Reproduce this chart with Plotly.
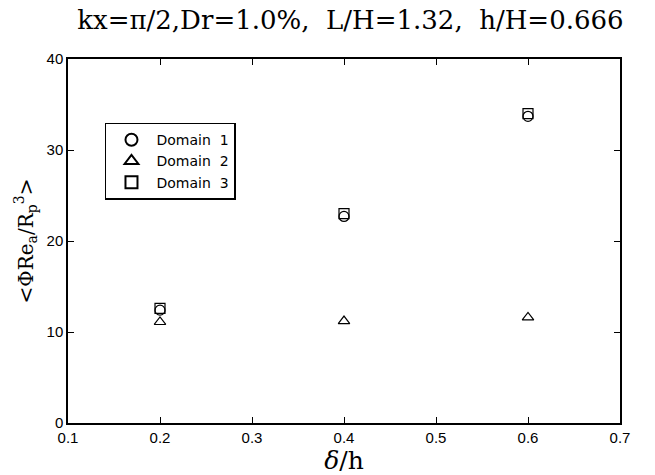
import plotly.graph_objects as go

x_vals = [0.2, 0.4, 0.6]
domain1 = [12.4, 22.7, 33.7]
domain2 = [11.1, 11.2, 11.6]
domain3 = [12.6, 23.0, 34.0]
names = ["Domain\u00a0 1", "Domain\u00a0 2", "Domain\u00a0 3"]
symbols = ["circle-open", "triangle-up-open", "square-open"]

fig = go.Figure()
for name, ys, sym in zip(names, [domain1, domain2, domain3], symbols):
    fig.add_trace(go.Scatter(
        x=x_vals, y=ys, mode="markers", name=name,
        marker=dict(symbol=sym, size=10, color="black", line=dict(color="black", width=1.2)),
    ))

axis_common = dict(
    showgrid=False, zeroline=False, showline=True, linecolor="black", linewidth=1.5,
    mirror="ticks", ticks="inside", ticklen=6, tickcolor="black", tickwidth=1,
    tickfont=dict(family="Liberation Sans, Arial", size=15, color="black"),
)

fig.update_layout(
    width=655, height=475,
    margin=dict(l=68, r=35, t=59, b=52),
    paper_bgcolor="white", plot_bgcolor="white",
    title=dict(text="kx=π/2,Dr=1.0%,\u00a0 L/H=1.32,\u00a0 h/H=0.666",
               font=dict(family="DejaVu Serif", size=26, color="black"),
               xref="container", x=0.535, xanchor="center", y=0.958, yanchor="middle"),
    xaxis=dict(range=[0.1, 0.7], dtick=0.1, tickformat=".1f",
               title=dict(text="<i>δ</i>/h", font=dict(family="DejaVu Serif", size=25, color="black"), standoff=0),
               **axis_common),
    yaxis=dict(range=[0, 40], dtick=10,
               title=dict(text="<ΦRe<sub>a</sub>/R<sub>p</sub><sup>3</sup>>",
                          font=dict(family="DejaVu Serif", size=20, color="black"), standoff=8),
               **axis_common),
    legend=dict(x=0.067, y=0.825, xanchor="left", yanchor="top",
                bordercolor="black", borderwidth=1.5, bgcolor="white",
                font=dict(family="DejaVu Sans", size=14, color="black"),
                tracegroupgap=0, itemsizing="constant", itemwidth=40),
    showlegend=True,
)

fig.write_html("out.html")
